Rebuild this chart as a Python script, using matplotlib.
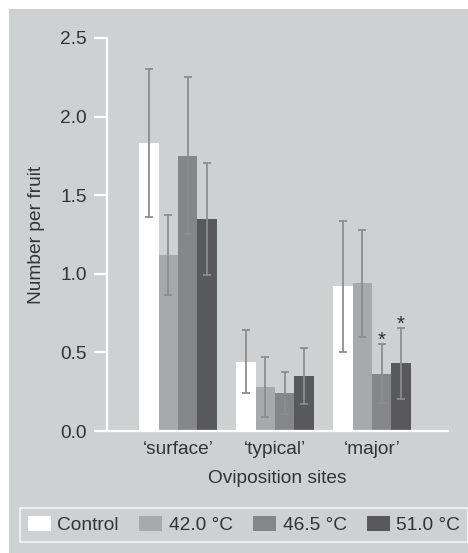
import matplotlib
matplotlib.use("Agg")
import matplotlib.pyplot as plt
from matplotlib.patches import Rectangle, Patch
import numpy as np

plt.rcParams['font.family'] = ['Liberation Sans', 'DejaVu Sans']

# Oviposition sites and temperature treatments
sites = ["\u2018surface\u2019", "\u2018typical\u2019", "\u2018major\u2019"]
treatments = ["Control", "42.0 \u00b0C", "46.5 \u00b0C", "51.0 \u00b0C"]

# Mean number per fruit (rows: treatments, columns: sites)
control = [1.83, 0.44, 0.92]
t42 = [1.12, 0.28, 0.94]
t465 = [1.75, 0.24, 0.365]
t51 = [1.35, 0.35, 0.43]

# Error (half-length of error bars)
err_control = [0.47, 0.20, 0.415]
err_t42 = [0.255, 0.19, 0.34]
err_t465 = [0.50, 0.135, 0.187]
err_t51 = [0.355, 0.18, 0.225]

# Significant differences marked with an asterisk: (site index, treatment index)
significant = [(2, 2), (2, 3)]

means = [control, t42, t465, t51]
errors = [err_control, err_t42, err_t465, err_t51]
colors = ["#ffffff", "#a8a9ab", "#858688", "#59595b"]

bg = "#cfd0d2"
text_color = "#333333"
err_color = "#8d8d8d"
fs = 13.8

fig = plt.figure(figsize=(4.68, 5.53), dpi=100, facecolor="white")
panel = Rectangle((9 / 468, 0), 1 - 9 / 468, 1 - 9 / 553,
                  transform=fig.transFigure, facecolor=bg,
                  edgecolor="none", zorder=-10)
fig.add_artist(panel)

ax = fig.add_axes([107 / 468, 1 - 431 / 553, (448 - 107) / 468, (431 - 38) / 553])
ax.set_facecolor("none")
ax.set_zorder(1)

x = np.arange(len(sites))
width = 0.2
for i, (m, e, c) in enumerate(zip(means, errors, colors)):
    pos = x + (i - 1.5) * width
    ax.bar(pos, m, width=width, color=c, edgecolor="none", zorder=2)
    ax.errorbar(pos, m, yerr=e, fmt="none", ecolor=err_color,
                elinewidth=1.3, capsize=3.2, capthick=1.3, zorder=3)

for s, t in significant:
    xp = x[s] + (t - 1.5) * width
    top = means[t][s] + errors[t][s]
    ax.text(xp, top - 0.035, "*", ha="center", va="bottom",
            fontsize=fs + 1, color=text_color, zorder=4)

ax.set_xlim(-0.732, 2.784)
ax.set_ylim(0, 2.5)
ax.set_yticks([0.0, 0.5, 1.0, 1.5, 2.0, 2.5])
ax.set_yticklabels(["0.0", "0.5", "1.0", "1.5", "2.0", "2.5"])
ax.set_xticks(x)
ax.set_xticklabels(sites)

for side in ["top", "right"]:
    ax.spines[side].set_visible(False)
for side in ["left", "bottom"]:
    ax.spines[side].set_color("white")
    ax.spines[side].set_linewidth(1.6)

ax.tick_params(axis="y", direction="out", length=9.5, width=1.6, color="white",
               labelsize=fs, labelcolor=text_color, pad=5)
ax.tick_params(axis="x", length=0, labelsize=fs, labelcolor=text_color, pad=7.5)

ax.set_ylabel("Number per fruit", fontsize=fs, color=text_color, labelpad=11)
ax.set_xlabel("Oviposition sites", fontsize=fs, color=text_color, labelpad=8)

handles = [Patch(facecolor=c, edgecolor="none") for c in colors]
leg = fig.legend(handles, treatments, loc="center", ncol=4,
                 bbox_to_anchor=(244 / 468, 1 - 525 / 553),
                 frameon=True, fancybox=False, fontsize=fs,
                 handlelength=1.2, handleheight=0.85, handletextpad=0.35,
                 columnspacing=1.05, borderpad=0.4, borderaxespad=0)
leg.get_frame().set_facecolor(bg)
leg.get_frame().set_edgecolor("white")
leg.get_frame().set_linewidth(1.2)
for t in leg.get_texts():
    t.set_color(text_color)

fig.savefig("out.png", dpi=100, facecolor="white")
